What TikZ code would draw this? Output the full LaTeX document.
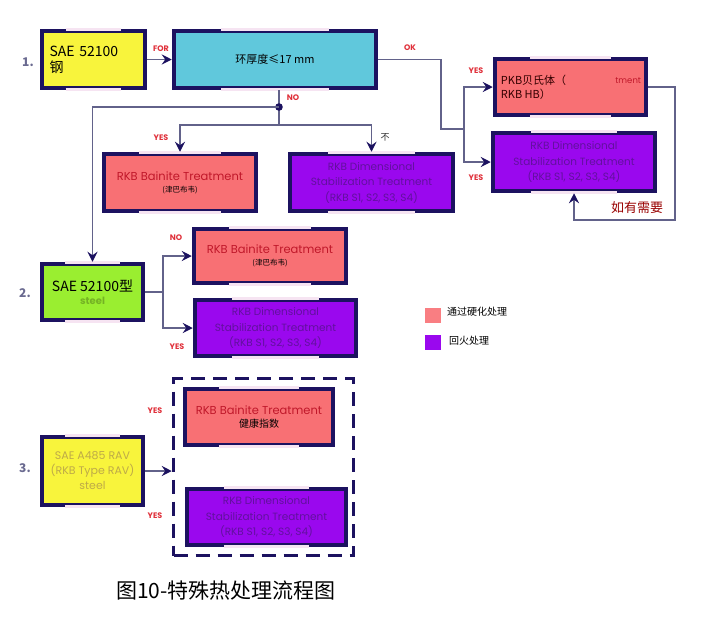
\documentclass[tikz,border=0pt]{standalone}
\usepackage{fontspec}
\setmainfont{Noto Sans CJK SC}
\newfontfamily\geo{Poppins}
\usetikzlibrary{arrows.meta,calc}
\definecolor{navy}{HTML}{1C1260}
\definecolor{linec}{HTML}{62628A}
\definecolor{yel}{HTML}{F8F43C}
\definecolor{cya}{HTML}{60C8DC}
\definecolor{pnk}{HTML}{F87074}
\definecolor{vio}{HTML}{9A08EE}
\definecolor{grn}{HTML}{9AEE30}
\definecolor{strip}{HTML}{F6E4F2}
\definecolor{lab}{HTML}{E0303A}
\definecolor{vtxt}{HTML}{62109E}
\definecolor{rtxt}{HTML}{C0182A}
\definecolor{numc}{HTML}{6A6A90}
\definecolor{ytxt}{HTML}{BEAA48}
\begin{document}
\begin{tikzpicture}[x=1pt,y=-1pt,
  bx/.style={draw=navy, line width=4.5pt, inner sep=0pt, align=center},
  line/.style={draw=linec, line width=1.3pt},
  arr/.style={line, -{Stealth[length=10pt,width=10pt,inset=3.5pt,color=navy]}},
  lbl/.style={text=lab, font=\geo\fontsize{8}{9}\selectfont\bfseries, inner sep=0pt},
  num/.style={text=numc, font=\fontsize{12}{14}\selectfont\bfseries, inner sep=0pt},
  vt/.style={text=vtxt, font=\geo\fontsize{10.5}{15.5}\selectfont},
  stripline/.style={draw=strip, line width=2.6pt}]
\useasboundingbox (0,0) rectangle (724,630);
\fill[white] (0,0) rectangle (724,630);

% section 1
\node[bx, fill=yel, minimum width=103pt, minimum height=57pt, text width=88pt, align=left,
      font=\fontsize{14}{16}\selectfont] (s1) at (93.5,59.5) {SAE 52100\\钢};
\node[bx, fill=cya, minimum width=202pt, minimum height=57pt,
      font=\fontsize{11}{13}\selectfont] (cy) at (275,59.5) {环厚度≤17 mm};
\node[bx, fill=pnk, minimum width=152pt, minimum height=57pt] (r1) at (180,182.5)
  {{\geo\fontsize{11.5}{14}\selectfont\color{rtxt}RKB Bainite Treatment}\\[0pt]{\fontsize{7.5}{9}\selectfont (津巴布韦)}};
\node[bx, fill=vio, minimum width=163pt, minimum height=57pt, vt] (p1) at (371.5,182.5)
  {RKB Dimensional\\Stabilization Treatment\\(RKB S1, S2, S3, S4)};
\node[bx, fill=pnk, minimum width=151pt, minimum height=56pt] (r2) at (570.5,87) {};
\node[anchor=west, inner sep=0pt, align=left, text=black!80!red, font=\fontsize{11}{14}\selectfont] (r2t) at ($(r2.west)+(8,0)$) {PKB贝氏体（\\RKB HB）};
\node[anchor=east, inner sep=0pt, font=\geo\fontsize{8.5}{10}\selectfont, text=rtxt] (r2u) at ($(r2.east)+(-7,-6)$) {tment};
\node[bx, fill=vio, minimum width=162pt, minimum height=58pt, vt] (p2) at (574,162)
  {RKB Dimensional\\Stabilization Treatment\\(RKB S1, S2, S3, S4)};

% section 2
\node[bx, fill=grn, minimum width=101pt, minimum height=56pt] (g) at (92.5,292)
  {{\fontsize{14}{16}\selectfont SAE 52100型}\\[1pt]{\geo\fontsize{10}{11}\selectfont\bfseries\color{grn!75!black}steel}};
\node[bx, fill=pnk, minimum width=152pt, minimum height=54pt] (r3) at (270,256)
  {{\geo\fontsize{11.5}{14}\selectfont\color{rtxt}RKB Bainite Treatment}\\[0pt]{\fontsize{7.5}{9}\selectfont (津巴布韦)}};
\node[bx, fill=vio, minimum width=161pt, minimum height=56pt, vt] (p3) at (275.5,328)
  {RKB Dimensional\\Stabilization Treatment\\(RKB S1, S2, S3, S4)};

% section 3
\node[draw=navy, line width=3.5pt, dash pattern=on 14pt off 8pt, minimum width=180pt, minimum height=177pt] (dsh) at (263.5,467) {};
\node[bx, fill=yel, minimum width=101pt, minimum height=68pt,
      font=\geo\fontsize{11}{15}\selectfont, text=ytxt] (y3) at (92.5,471)
  {SAE A485 RAV\\(RKB Type RAV)\\steel};
\node[bx, fill=pnk, minimum width=148pt, minimum height=56pt] (r4) at (259,417)
  {{\geo\fontsize{11.5}{14}\selectfont\color{rtxt}RKB Bainite Treatment}\\[1pt]{\fontsize{10}{12}\selectfont 健康指数}};
\node[bx, fill=vio, minimum width=159pt, minimum height=56pt, vt] (p4) at (266.5,517)
  {RKB Dimensional\\Stabilization Treatment\\(RKB S1, S2, S3, S4)};

% strips on boxes
\foreach \n in {s1,cy,r1,p1,r2,p2,g,r3,p3,y3,r4,p4}{
  \draw[stripline] ($($(\n.north west)!0.24!(\n.north east)$)+(0,1)$) -- ($($(\n.north west)!0.76!(\n.north east)$)+(0,1)$);
  \draw[stripline] ($($(\n.south west)!0.24!(\n.south east)$)+(0,-1)$) -- ($($(\n.south west)!0.76!(\n.south east)$)+(0,-1)$);
}

% connectors section 1
\draw[arr] (s1.east) -- (cy.west);
\coordinate (dot) at (279,107);
\coordinate (br) at (279,125);
\draw[line] (cy.south -| dot) -- (dot) -- (br);
\fill[navy] (dot) circle (3.8pt);
\draw[arr] (br) -| (r1.north);
\draw[arr] (br) -| (p1.north);
\draw[arr] (dot) -| (g.north);
\coordinate (okturn) at (441,129);
\coordinate (okj) at (464,129);
\draw[line] (cy.east) -| (okturn) -- (okj);
\draw[arr] (okj) |- (r2.west);
\draw[arr] (okj) |- (p2.west);
\coordinate (fb) at (675,220);
\draw[arr] (r2.east) -| (fb) -| (p2.south);

% connectors section 2
\coordinate (j2) at (163,292);
\draw[line] (g.east) -- (j2);
\draw[arr] (j2) |- (r3.west);
\draw[arr] (j2) |- (p3.west);

% connector section 3
\draw[arr] (y3.east) -- (dsh.west |- y3.east);

% labels
\node[num] (n1) at (28,62) {1.};
\node[num] (n2) at (25,293) {2.};
\node[num] (n3) at (25,468) {3.};
\node[lbl] (lfor) at (161,49) {FOR};
\node[lbl] (lno1) at (293,98) {NO};
\node[lbl] (lyes1) at (161,138) {YES};
\node[inner sep=0pt, font=\fontsize{9}{10}\selectfont, text=black!80] (lbu) at (385,137) {不};
\node[lbl] (lok) at (410,48) {OK};
\node[lbl] (lyes2) at (476,71) {YES};
\node[lbl] (lyes3) at (476,178) {YES};
\node[inner sep=0pt, font=\fontsize{13}{15}\selectfont, text=red!60!black] (lneed) at (637,208) {如有需要};
\node[lbl] (lno2) at (176,238) {NO};
\node[lbl] (lyes4) at (177,347) {YES};
\node[lbl] (lyes5) at (155,411) {YES};
\node[lbl] (lyes6) at (155,516) {YES};

% legend
\fill[pnk!90!white] (425,308) rectangle (441,323);
\fill[vio] (425,335) rectangle (441,350);
\node[anchor=west, inner sep=0pt, font=\fontsize{10}{12}\selectfont] (lg1) at (447,312) {通过硬化处理};
\node[anchor=west, inner sep=0pt, font=\fontsize{10}{12}\selectfont] (lg2) at (449,341) {回火处理};

% caption
\node[anchor=west, inner sep=0pt, font=\fontsize{21}{24}\selectfont] (cap) at (116,591) {图10-特殊热处理流程图};
\end{tikzpicture}
\end{document}
